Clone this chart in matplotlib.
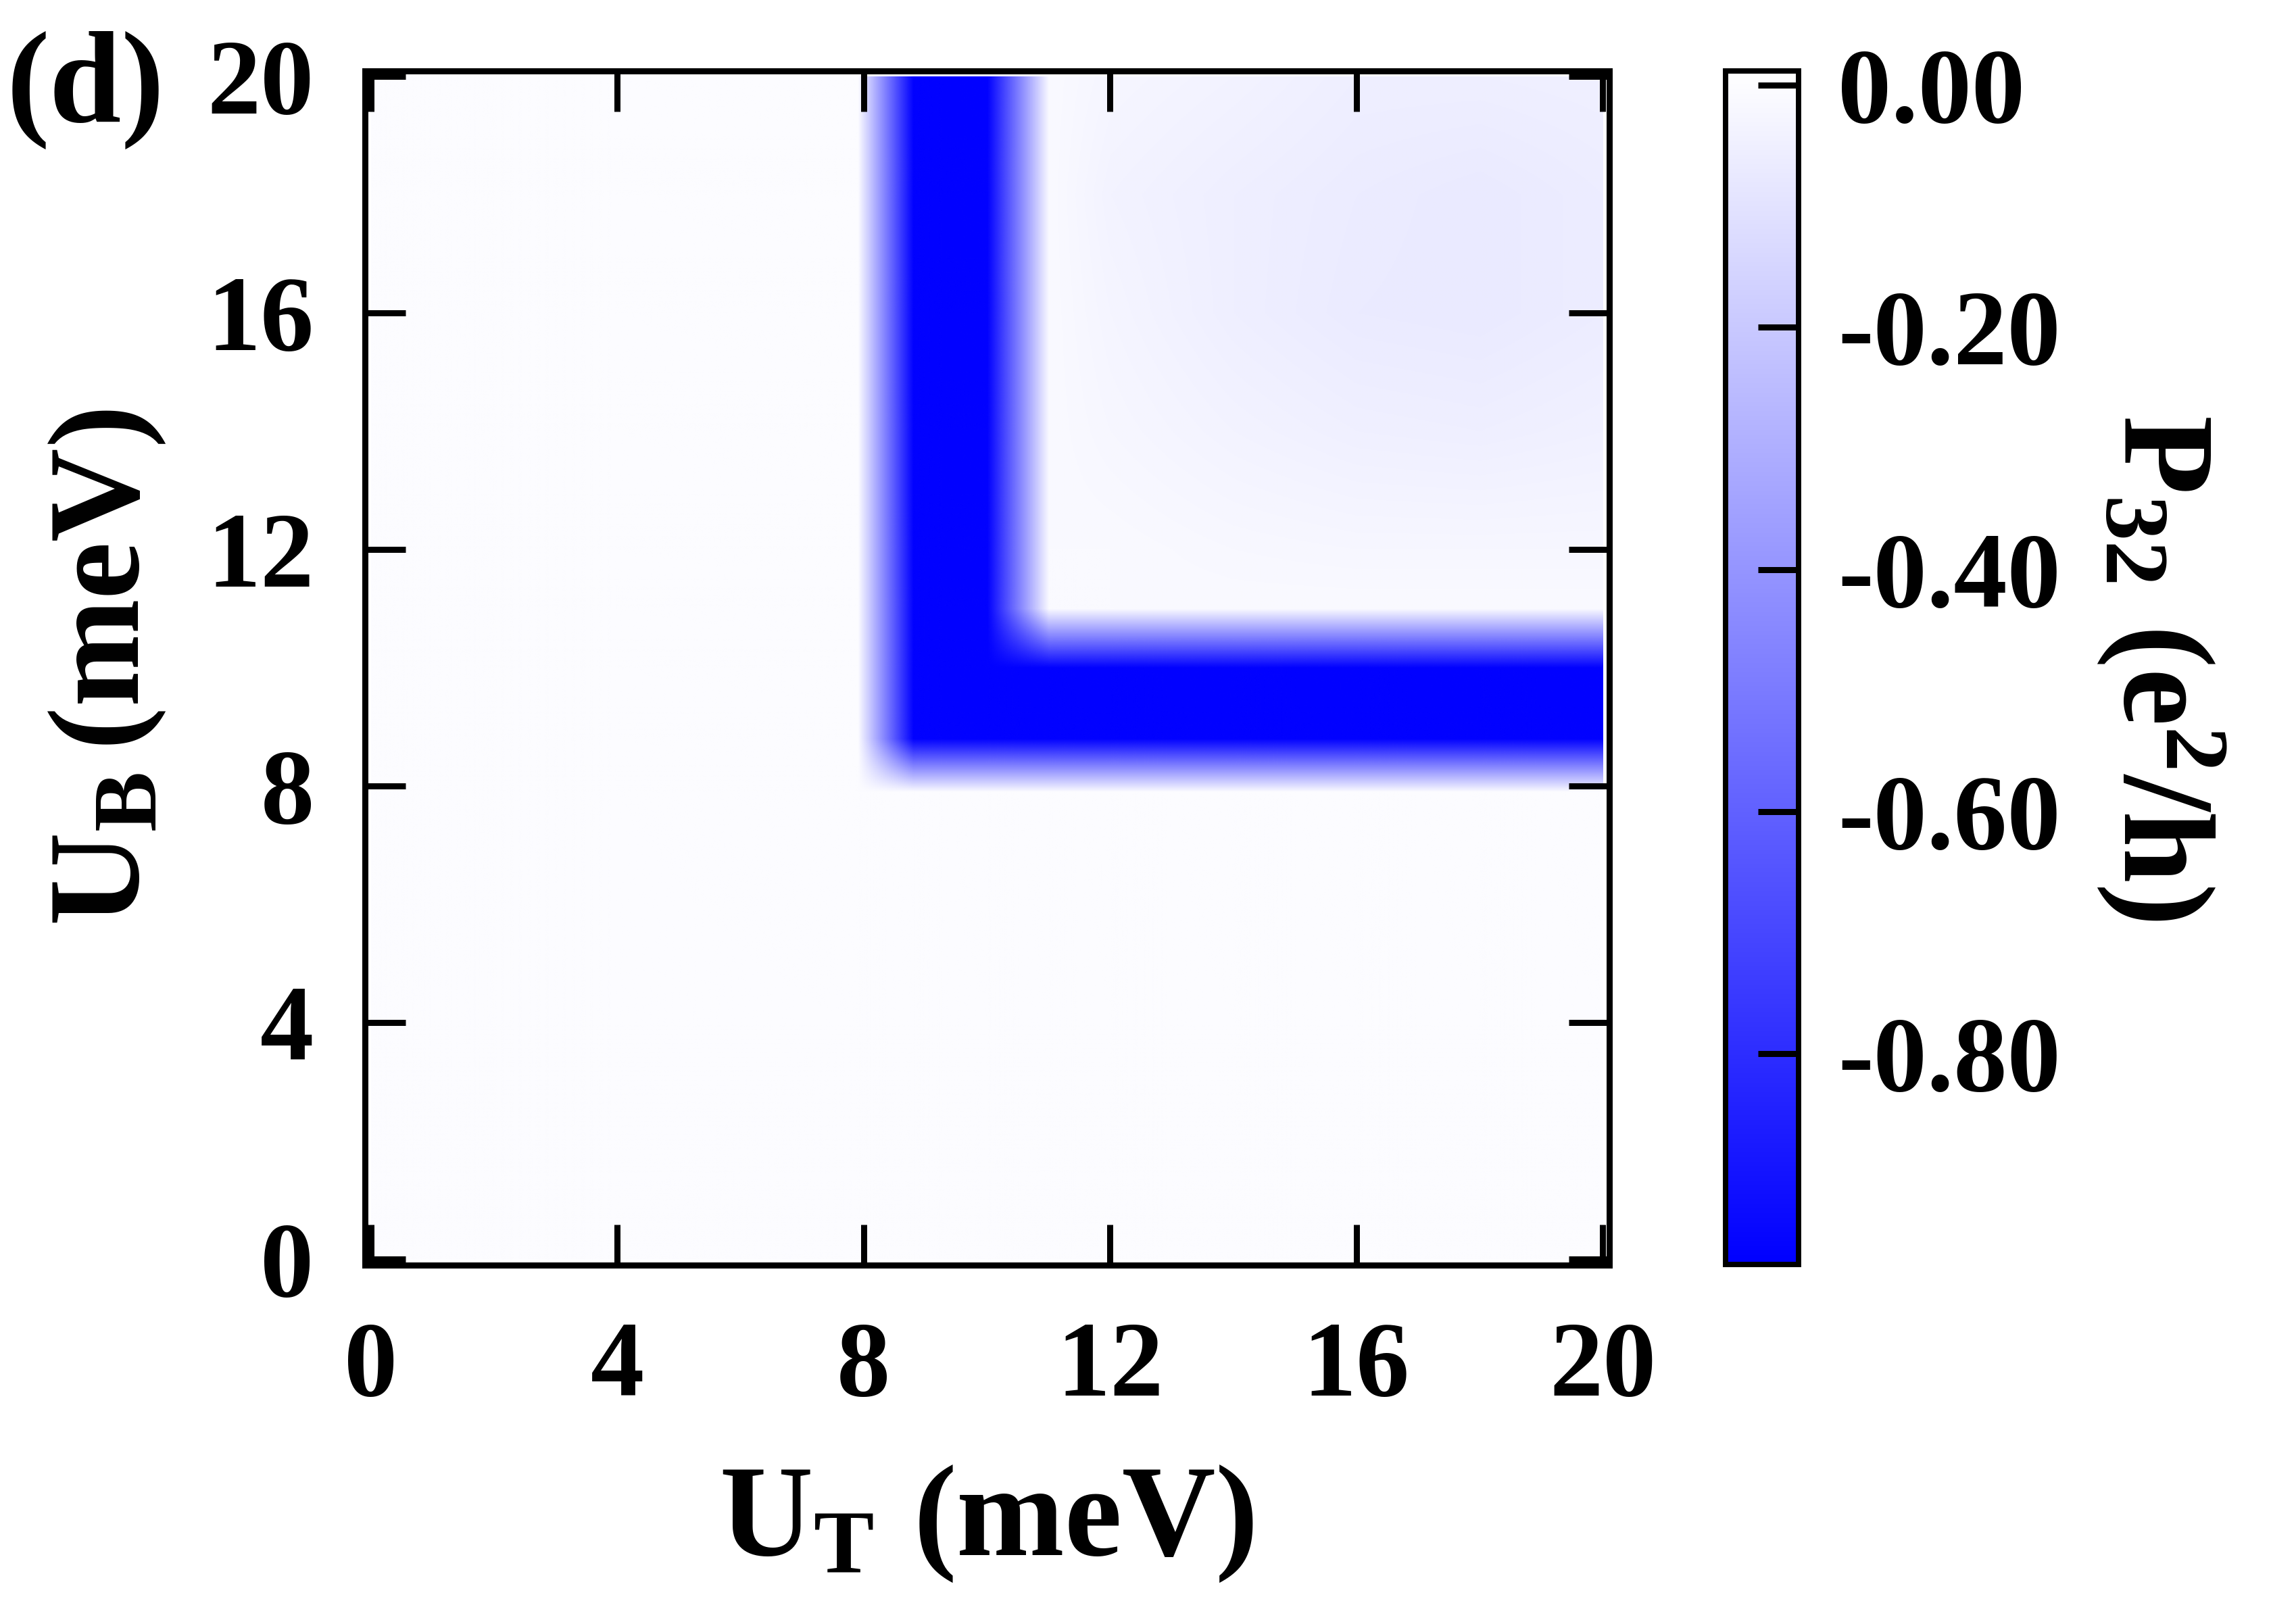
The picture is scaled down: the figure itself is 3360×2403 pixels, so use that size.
import numpy as np
import matplotlib
matplotlib.use('Agg')
import matplotlib.pyplot as plt
from matplotlib.colors import LinearSegmentedColormap, Normalize
from matplotlib.image import NonUniformImage
from matplotlib.patches import Rectangle

plt.rcParams['font.family'] = ['Liberation Serif', 'DejaVu Serif']
plt.rcParams['font.weight'] = 'bold'
plt.rcParams['mathtext.fontset'] = 'custom'
plt.rcParams['mathtext.rm'] = 'Liberation Serif:bold'
plt.rcParams['mathtext.it'] = 'Liberation Serif:bold'
plt.rcParams['mathtext.bf'] = 'Liberation Serif:bold'

# sample points of the map (meV)
ut = [0, 7.9, 8.8, 10.0, 11.0, 12, 14, 16, 18, 20]
ub = [0, 7.9, 8.8, 10.0, 11.0, 12, 14, 16, 18, 20]

# P32z (e^2/h), one row per UB value, columns follow ut
p32 = [
    [0, 0, 0.00, 0.00, 0.00, 0.00, 0.00, 0.00, 0.00, 0.00],            # UB = 0
    [0, 0, 0.00, 0.00, 0.00, 0.00, 0.00, 0.00, 0.00, 0.00],            # UB = 7.9
    [0, 0, -0.97, -0.97, -0.97, -0.97, -0.97, -0.97, -0.97, -0.97],    # UB = 8.8
    [0, 0, -0.97, -0.97, -0.97, -0.97, -0.97, -0.97, -0.97, -0.97],    # UB = 10
    [0, 0, -0.97, -0.97, -0.01, -0.01, -0.01, -0.01, -0.01, -0.01],    # UB = 11
    [0, 0, -0.97, -0.97, -0.01, -0.010, -0.016, -0.022, -0.022, -0.022],  # UB = 12
    [0, 0, -0.97, -0.97, -0.01, -0.022, -0.036, -0.048, -0.050, -0.045],  # UB = 14
    [0, 0, -0.97, -0.97, -0.01, -0.030, -0.050, -0.066, -0.070, -0.060],  # UB = 16
    [0, 0, -0.97, -0.97, -0.01, -0.032, -0.050, -0.065, -0.070, -0.060],  # UB = 18
    [0, 0, -0.97, -0.97, -0.01, -0.026, -0.038, -0.050, -0.052, -0.046],  # UB = 20
]

ticks = [0, 4, 8, 12, 16, 20]
cb_ticks = [0.0, -0.2, -0.4, -0.6, -0.8]
cb_labels = ['0.00', '-0.20', '-0.40', '-0.60', '-0.80']
cb_min, cb_max = -0.974, 0.012

fig = plt.figure(figsize=(11.2, 8.01), dpi=300)
ax = fig.add_axes([0.16057, 0.22118, 0.54792, 0.73533])
cax = fig.add_axes([0.75970, 0.22139, 0.03226, 0.73508])

cmap = LinearSegmentedColormap.from_list('bw', ['#0000ff', '#ffffff'])
norm = Normalize(vmin=cb_min, vmax=cb_max)

im = NonUniformImage(ax, interpolation='bilinear', cmap=cmap, norm=norm)
im.set_data(np.array(ut), np.array(ub), np.array(p32))
ax.add_image(im)
im.set_clip_path(Rectangle((0, 0), 20, 20, transform=ax.transData))

ax.set_xlim(-0.1, 20.1)
ax.set_ylim(-0.1, 20.1)
ax.set_xticks(ticks)
ax.set_yticks(ticks)
ax.tick_params(direction='in', length=14.4, width=2.16, top=True, right=True,
               labelsize=38)
ax.tick_params(axis='x', pad=20)
ax.tick_params(axis='y', pad=18)
for s in ax.spines.values():
    s.set_linewidth(2.16)

ax.set_xlabel(r'$\mathrm{U_T\ (meV)}$', fontsize=46, labelpad=16)
ax.set_ylabel(r'$\mathrm{U_B\,(meV)}$', fontsize=46, labelpad=14)

cbar = fig.colorbar(im, cax=cax)
cbar.set_ticks(cb_ticks)
cbar.set_ticklabels(cb_labels)
cbar.ax.minorticks_off()
cbar.outline.set_linewidth(1.9)
cax.tick_params(direction='in', length=14.4, width=2.16, labelsize=38, pad=14)
cbar.set_label(r'$\mathrm{P_{32}\ (e^2/h)}$', fontsize=46, rotation=270,
               va='bottom', labelpad=12)

fig.text(0.003, 0.981, '(d)', fontsize=46, fontweight='bold', va='top', ha='left')

fig.savefig('out.png', dpi=300)
